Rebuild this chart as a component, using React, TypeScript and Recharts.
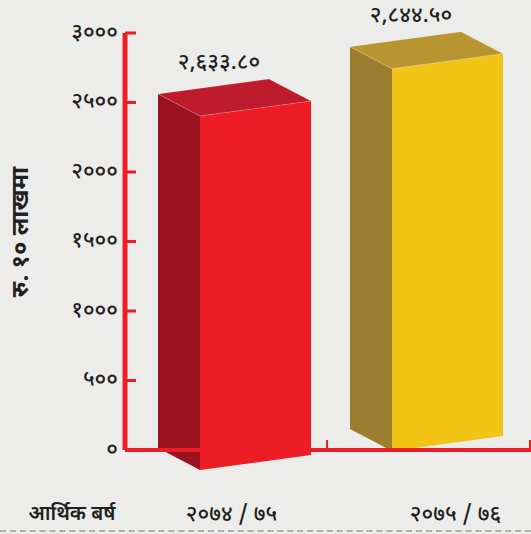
import React from "react";
import { BarChart, Bar, XAxis, YAxis } from "recharts";

// आर्थिक बर्ष अनुसार रकम (रु. १० लाखमा)
const years = ["2074/75", "2075/76"];
const amounts = [2633.8, 2844.5];
const yTicks = [0, 500, 1000, 1500, 2000, 2500, 3000];

const data = years.map((y, i) => ({ year: y, amount: amounts[i] }));

const BG = "#ecedeb";
const AXIS_RED = "#ee1c25";
const TEXT = "#231f20";
const FONT = "'Noto Sans Devanagari', 'Lohit Devanagari', 'Noto Sans', sans-serif";

const FACES = [
  { front: "#ee1c25", side: "#9a1220", top: "#be1c2d" },
  { front: "#f2c416", side: "#9b7d30", top: "#b8952f" },
];
// per-bar nudges so the boxes sit like the printed ones
const SHIFT = [
  { dx: 8, dy: 20 },
  { dx: -3, dy: 1 },
];
const LABEL_DX = [5, 26];

const DEVA = "०१२३४५६७८९";
const toDeva = (s: string) => s.replace(/[0-9]/g, (d) => DEVA[+d]);
const fmtValue = (v: number) =>
  toDeva(v.toLocaleString("en-US", { minimumFractionDigits: 2, maximumFractionDigits: 2 }));
const fmtYear = (s: string) => toDeva(s).replace("/", " / ");

const SIDE_W = 42;
const FRONT_W = 111;

function Box3D(props: any) {
  const { x, y, width, height, index, value } = props;
  const c = FACES[index % FACES.length];
  const s = SHIFT[index % SHIFT.length];
  const left = x + s.dx + (width - SIDE_W - FRONT_W) / 2;
  const bottom = y + height + s.dy;
  const h = height * 0.967;
  const fl = left + SIDE_W;
  const fr = fl + FRONT_W;
  const flt = bottom - h;
  const pts = (a: number[][]) => a.map((p) => p.join(",")).join(" ");
  const side = pts([[left, flt - 22], [fl, flt], [fl, bottom], [left, bottom - 22]]);
  const top = pts([[left, flt - 22], [left + FRONT_W, flt - 37], [fr, flt - 15], [fl, flt]]);
  const front = pts([[fl, flt], [fr, flt - 15], [fr, bottom - 15], [fl, bottom]]);
  const val = Array.isArray(value) ? value[1] : value;
  return (
    <g>
      <polygon points={side} fill={c.side} />
      <polygon points={front} fill={c.front} />
      <polygon points={top} fill={c.top} stroke="rgba(255,255,255,0.25)" strokeWidth={0.8} />
      <text
        x={left + 61}
        y={flt - 52}
        textAnchor="middle"
        dominantBaseline="central"
        fontSize={22}
        fontWeight={500}
        fill={TEXT}
        fontFamily={FONT}
      >
        {fmtValue(val)}
      </text>
    </g>
  );
}

function YTick(props: any) {
  const { x, y, payload } = props;
  return (
    <g>
      <line x1={x + 8} y1={y} x2={x + 19} y2={y} stroke={AXIS_RED} strokeWidth={3} />
      <text x={x + 1} y={y} textAnchor="end" dominantBaseline="central" fontSize={22} fontWeight={500} fill={TEXT} fontFamily={FONT}>
        {toDeva(String(payload.value))}
      </text>
    </g>
  );
}

function XTick(props: any) {
  const { x, y, payload, index } = props;
  const axisY = y - 8;
  return (
    <g>
      <line x1={x + 100.5} y1={axisY - 10} x2={x + 100.5} y2={axisY} stroke={AXIS_RED} strokeWidth={2} />
      <text
        x={x + LABEL_DX[index % LABEL_DX.length]}
        y={axisY + 65}
        textAnchor="middle"
        dominantBaseline="central"
        fontSize={22}
        fontWeight={500}
        fill={TEXT}
        fontFamily={FONT}
      >
        {fmtYear(payload.value)}
      </text>
    </g>
  );
}

export default function App() {
  return (
    <div style={{ position: "absolute", left: 0, top: 0, width: 531, height: 534, background: BG, overflow: "hidden" }}>
      <BarChart width={531} height={534} data={data} margin={{ top: 33, right: 0, bottom: 20, left: 0 }} barCategoryGap={0}>
        <XAxis
          dataKey="year"
          axisLine={{ stroke: AXIS_RED, strokeWidth: 4 }}
          tickLine={false}
          tick={<XTick />}
          height={64}
          interval={0}
        />
        <YAxis
          domain={[0, 3000]}
          ticks={yTicks}
          width={125}
          axisLine={{ stroke: AXIS_RED, strokeWidth: 5 }}
          tickLine={false}
          tick={<YTick />}
          interval={0}
          label={{
            content: () => (
              <text
                x={22}
                y={232}
                transform="rotate(-90 22 232)"
                textAnchor="middle"
                dominantBaseline="central"
                fontSize={24}
                fontWeight={700}
                fill={TEXT}
                fontFamily={FONT}
              >
                रु. १० लाखमा
              </text>
            ),
          }}
        />
        <Bar dataKey="amount" barSize={153} shape={<Box3D />} isAnimationActive={false} />
        <text x={72} y={515} textAnchor="middle" dominantBaseline="central" fontSize={20} fontWeight={600} fill={TEXT} fontFamily={FONT}>
          आर्थिक बर्ष
        </text>
      </BarChart>
      <div style={{ position: "absolute", left: 0, top: 530, width: 531, borderTop: "2px dashed #b0b0b0" }} />
    </div>
  );
}
